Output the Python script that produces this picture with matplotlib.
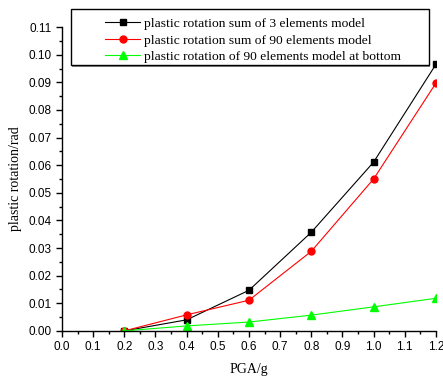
import matplotlib
matplotlib.use('Agg')
import matplotlib.pyplot as plt
from matplotlib.patches import Rectangle
from matplotlib.ticker import MultipleLocator

pga = [0.2, 0.4, 0.6, 0.8, 1.0, 1.2]
sum3 = [0.0, 0.0040, 0.0147, 0.0357, 0.0611, 0.0965]
sum90 = [0.0, 0.0058, 0.0111, 0.0288, 0.0550, 0.0897]
bottom90 = [0.0, 0.0018, 0.0032, 0.0057, 0.0087, 0.0118]

labels = ['plastic rotation sum of 3 elements model',
          'plastic rotation sum of 90 elements model',
          'plastic rotation of 90 elements model at bottom']

serif = 'Liberation Serif'
sans = 'Liberation Sans'

fig = plt.figure(figsize=(4.43, 3.76), dpi=100)
ax = fig.add_axes([0.140, 0.120, 0.844, 0.808])

ax.plot(pga, sum3, 'k-', marker='s', ms=4.5, lw=0.8, label=labels[0])
ax.plot(pga, sum90, '-', color='red', marker='o', ms=5, lw=0.8, label=labels[1])
ax.plot(pga, bottom90, '-', color='#00ff00', marker='^', ms=5.5, lw=0.8, label=labels[2])

ax.set_xlim(0, 1.2)
ax.set_ylim(0, 0.11)
ax.xaxis.set_major_locator(MultipleLocator(0.1))
ax.xaxis.set_minor_locator(MultipleLocator(0.05))
ax.yaxis.set_major_locator(MultipleLocator(0.01))
ax.yaxis.set_minor_locator(MultipleLocator(0.005))
ax.xaxis.set_major_formatter(plt.FormatStrFormatter('%.1f'))
ax.yaxis.set_major_formatter(plt.FormatStrFormatter('%.2f'))

for s in ['top', 'right']:
    ax.spines[s].set_visible(False)
for s in ['left', 'bottom']:
    ax.spines[s].set_linewidth(1.0)
ax.tick_params(which='major', direction='out', length=4, width=1, labelsize=8.5)
ax.tick_params(which='minor', direction='out', length=2.5, width=1)
for t in ax.get_xticklabels() + ax.get_yticklabels():
    t.set_family(sans)

ax.set_xlabel('PGA/g', family=serif, fontsize=10, labelpad=7)
ax.set_ylabel('plastic rotation/rad', family=serif, fontsize=10, labelpad=5)

# legend box (drawn by hand to match the frame)
fig.patches.append(Rectangle((0.162, 0.823), 0.808, 0.151, transform=fig.transFigure,
                             facecolor='#888888', edgecolor='none', zorder=1))
fig.patches.append(Rectangle((0.160, 0.826), 0.808, 0.151, transform=fig.transFigure,
                             facecolor='white', edgecolor='black', lw=1.0, zorder=2))
leg = fig.legend(loc='upper left', bbox_to_anchor=(0.216, 0.978), frameon=False,
                 prop={'family': serif, 'size': 9.7}, handlelength=2.6,
                 handletextpad=0.25, labelspacing=0.3, borderpad=0.2)
leg.set_zorder(3)

fig.savefig('out.png', dpi=100)
